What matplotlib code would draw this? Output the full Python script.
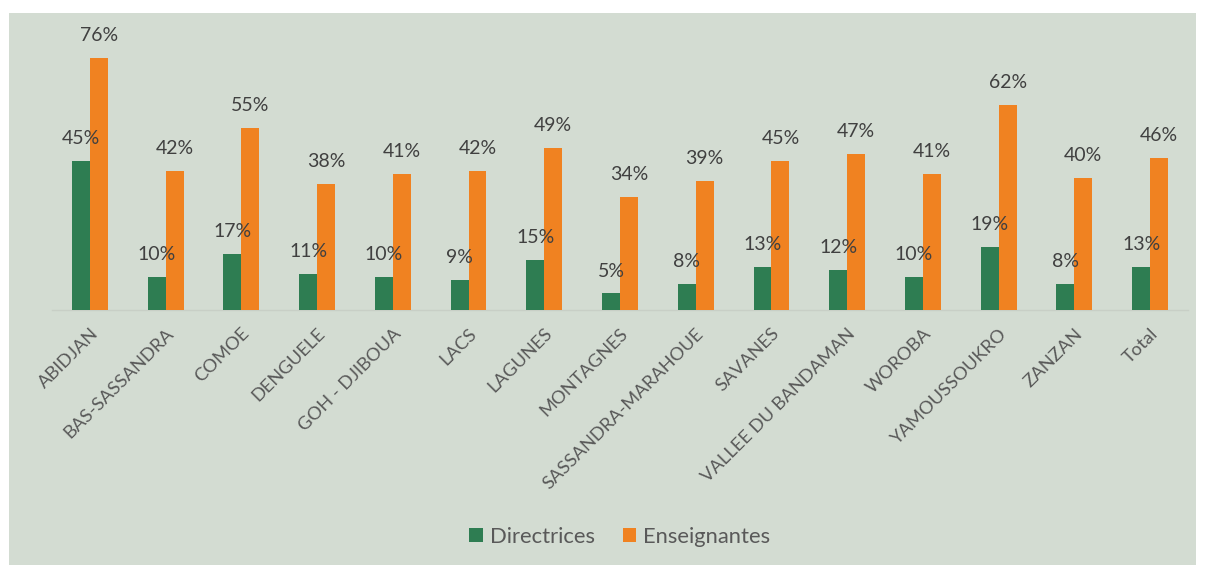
import matplotlib.pyplot as plt
import matplotlib.patches as mpatches
import numpy as np

regions = ["ABIDJAN", "BAS-SASSANDRA", "COMOE", "DENGUELE", "GOH - DJIBOUA",
           "LACS", "LAGUNES", "MONTAGNES", "SASSANDRA-MARAHOUE", "SAVANES",
           "VALLEE DU BANDAMAN", "WOROBA", "YAMOUSSOUKRO", "ZANZAN", "Total"]
directrices = [45, 10, 17, 11, 10, 9, 15, 5, 8, 13, 12, 10, 19, 8, 13]
enseignantes = [76, 42, 55, 38, 41, 42, 49, 34, 39, 45, 47, 41, 62, 40, 46]

vert = "#2e7d52"
orange = "#f08221"
fond = "#d3dcd2"
texte = "#404040"
gris = "#595959"

plt.rcParams['font.family'] = ['Lato', 'DejaVu Sans']

W, H = 1205, 567
fig = plt.figure(figsize=(W / 100, H / 100), dpi=100)
fig.patch.set_facecolor("white")

# fond du graphique, derrière les axes
fig.patches.append(mpatches.Rectangle((9 / W, 1 - 565 / H), (1196 - 9) / W, (565 - 13) / H,
                                      transform=fig.transFigure, facecolor=fond,
                                      edgecolor="none", zorder=-10))

ax = fig.add_axes([52 / W, 1 - 310 / H, (1188 - 52) / W, (310 - 45) / H])
ax.set_facecolor("none")

x = np.arange(len(regions))
w = 0.237
b1 = ax.bar(x - w / 2, directrices, w, color=vert, label="Directrices", zorder=3)
b2 = ax.bar(x + w / 2, enseignantes, w, color=orange, label="Enseignantes", zorder=3)

for bars, vals in ((b1, directrices), (b2, enseignantes)):
    for r, v in zip(bars, vals):
        ax.annotate(f"{v}%", (r.get_x() + r.get_width() / 2, v), xytext=(0, 10),
                    textcoords="offset points", ha="center", va="bottom",
                    fontsize=14, color=texte)

ax.set_xlim(-0.5, len(regions) - 0.5)
ax.set_ylim(0, 80)
ax.set_yticks([])
for s in ["top", "right", "left"]:
    ax.spines[s].set_visible(False)
ax.spines["bottom"].set_color("#c8cfc6")
ax.spines["bottom"].set_linewidth(1)

ax.set_xticks(x)
ax.set_xticklabels(regions, rotation=45, ha="right", rotation_mode="anchor",
                   fontsize=13.2, color=gris)
ax.tick_params(axis="x", length=0, pad=11)

fig.legend(handles=[b1, b2], loc="center", bbox_to_anchor=(620 / W, 1 - 537 / H),
           ncol=2, frameon=False, fontsize=15.8, labelcolor=gris,
           handlelength=0.6, handleheight=0.6, handletextpad=0.35, columnspacing=1.25)

fig.savefig("out.png", dpi=100)
